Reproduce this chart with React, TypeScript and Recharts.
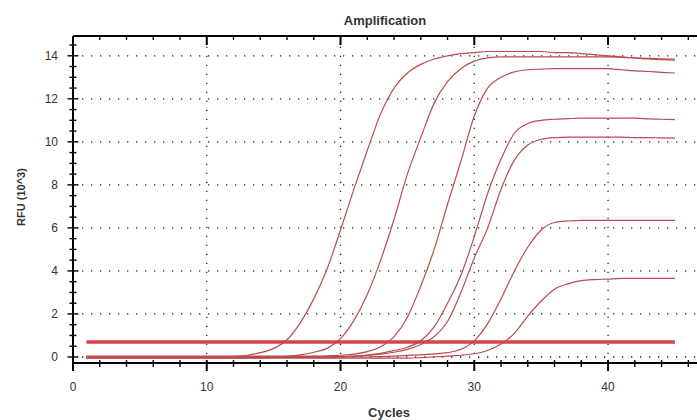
import React from "react";
import { LineChart, Line, XAxis, YAxis, ReferenceLine } from "recharts";

// cycle numbers of the run
const cycles = [
  1, 2, 3, 4, 5, 6, 7, 8, 9, 10, 11, 12, 13, 14, 15, 16, 17, 18, 19, 20, 21, 22, 23,
  24, 25, 26, 27, 28, 29, 30, 31, 32, 33, 34, 35, 36, 37, 38, 39, 40, 41, 42, 43, 44, 45,
];

// RFU (x10^3) per well
const wellA = [
  0, 0, 0, 0, 0, 0, 0, 0, 0, 0, 0, 0.02, 0.08, 0.2, 0.4, 0.8, 1.6, 2.7, 4.1, 5.9, 7.8, 9.6, 11.3,
  12.5, 13.2, 13.6, 13.85, 14.0, 14.1, 14.15, 14.2, 14.2, 14.2, 14.2, 14.2, 14.15, 14.15, 14.1,
  14.05, 14.0, 13.95, 13.9, 13.85, 13.82, 13.8,
];
const wellB = [
  -0.04, -0.04, -0.04, -0.04, -0.04, -0.04, -0.04, -0.04, -0.04, -0.04, -0.04, -0.04, -0.04,
  -0.04, -0.02, 0.03, 0.1, 0.22, 0.4, 0.85, 1.7, 2.9, 4.5, 6.4, 8.5, 10.2, 11.8, 12.8, 13.4,
  13.75, 13.9, 13.95, 13.95, 13.95, 13.95, 13.95, 13.95, 13.95, 13.95, 13.95, 13.93, 13.9,
  13.88, 13.86, 13.85,
];
const wellC = [
  0.04, 0.04, 0.04, 0.04, 0.04, 0.04, 0.04, 0.04, 0.04, 0.04, 0.04, 0.04, 0.04, 0.04, 0.04,
  0.04, 0.04, 0.04, 0.05, 0.08, 0.13, 0.25, 0.48, 0.95, 1.85, 3.3, 5.0, 7.1, 9.1, 11.2, 12.5,
  13.0, 13.25, 13.35, 13.38, 13.4, 13.4, 13.4, 13.4, 13.4, 13.35, 13.3, 13.27, 13.23, 13.2,
];
const wellD = [
  -0.02, -0.02, -0.02, -0.02, -0.02, -0.02, -0.02, -0.02, -0.02, -0.02, -0.02, -0.02, -0.02,
  -0.02, -0.02, -0.02, -0.02, -0.02, -0.02, 0.0, 0.04, 0.09, 0.17, 0.3, 0.45, 0.75, 1.4, 2.5,
  3.8, 5.6, 7.6, 9.2, 10.4, 10.85, 11.0, 11.05, 11.08, 11.1, 11.1, 11.1, 11.1, 11.1, 11.07,
  11.05, 11.03,
];
const wellE = [
  0.02, 0.02, 0.02, 0.02, 0.02, 0.02, 0.02, 0.02, 0.02, 0.02, 0.02, 0.02, 0.02, 0.02, 0.02,
  0.02, 0.02, 0.02, 0.02, 0.02, 0.04, 0.07, 0.13, 0.22, 0.35, 0.58, 0.95, 1.65, 3.0, 4.6, 6.0,
  7.8, 9.15, 9.85, 10.12, 10.2, 10.22, 10.22, 10.22, 10.22, 10.22, 10.2, 10.2, 10.18, 10.17,
];
const wellF = [
  0, 0, 0, 0, 0, 0, 0, 0, 0, 0, 0, 0, 0, 0, 0, 0, 0, 0, 0, 0, 0, 0, 0.02, 0.04, 0.07, 0.1,
  0.14, 0.2, 0.36, 0.75, 1.55, 2.7, 4.0, 5.1, 5.9, 6.25, 6.32, 6.35, 6.35, 6.35, 6.35, 6.35,
  6.35, 6.35, 6.35,
];
const wellG = [
  -0.05, -0.05, -0.05, -0.05, -0.05, -0.05, -0.05, -0.05, -0.05, -0.05, -0.05, -0.05, -0.05,
  -0.05, -0.05, -0.05, -0.05, -0.05, -0.05, -0.05, -0.05, -0.05, -0.05, -0.05, -0.05, -0.03,
  0.0, 0.04, 0.08, 0.15, 0.3, 0.6, 1.1, 1.9, 2.6, 3.15, 3.4, 3.55, 3.6, 3.62, 3.65, 3.65, 3.65,
  3.65, 3.65,
];
const threshold = 0.7;

const wells = [wellA, wellB, wellC, wellD, wellE, wellF, wellG];
const wellKeys = ["a", "b", "c", "d", "e", "f", "g"];

// axis ticks
const xTicks = [0, 2, 4, 6, 8, 10, 12, 14, 16, 18, 20, 22, 24, 26, 28, 30, 32, 34, 36, 38, 40, 42, 44, 46];
const yTicks = [
  0, 0.5, 1, 1.5, 2, 2.5, 3, 3.5, 4, 4.5, 5, 5.5, 6, 6.5, 7, 7.5, 8, 8.5, 9, 9.5, 10, 10.5, 11,
  11.5, 12, 12.5, 13, 13.5, 14, 14.5,
];
const yGrid = [0, 2, 4, 6, 8, 10, 12, 14];
const xGrid = [10, 20, 30, 40];

const data = cycles.map((cycle, i) => {
  const row: Record<string, number> = { cycle, thr: threshold };
  wells.forEach((w, j) => (row[wellKeys[j]] = w[i]));
  return row;
});

const FONT = "'Liberation Sans', Arial, sans-serif";
const CURVE = "#bd4a50";

const YTick = (props: any) => {
  const { x, y, payload } = props;
  const major = payload.value % 2 === 0;
  const len = major ? 5.5 : 3.5;
  return (
    <g>
      <line x1={x - len} x2={x + len} y1={y} y2={y} stroke="#000" strokeWidth={1.4} />
      {major && (
        <text x={x - 15} y={y + 4.5} textAnchor="end" fontSize={12} fill="#333" fontFamily={FONT}>
          {payload.value}
        </text>
      )}
    </g>
  );
};

const BottomTick = (props: any) => {
  const { x, y, payload } = props;
  const major = payload.value % 10 === 0;
  return (
    <g>
      <line x1={x} x2={x} y1={y - 3} y2={y + (major ? 8 : 4)} stroke="#000" strokeWidth={major ? 2 : 1.4} />
      {major && (
        <text x={x} y={y + 28} textAnchor="middle" fontSize={12} fill="#333" fontFamily={FONT}>
          {payload.value}
        </text>
      )}
    </g>
  );
};

const TopTick = (props: any) => {
  const { x, y, payload } = props;
  const major = payload.value % 10 === 0;
  return <line x1={x} x2={x} y1={y} y2={y + (major ? 9 : 4)} stroke="#000" strokeWidth={major ? 2 : 1.4} />;
};

export default function App() {
  return (
    <div
      style={{
        position: "absolute",
        left: 0,
        top: 0,
        width: 697,
        height: 420,
        overflow: "hidden",
        background: "#fff",
      }}
    >
      <LineChart width={697} height={420} data={data} margin={{ top: 0, right: 0, bottom: 0, left: 0 }}>
        <XAxis
          xAxisId="top"
          orientation="top"
          dataKey="cycle"
          type="number"
          domain={[0, 46.65]}
          ticks={xTicks}
          interval={0}
          height={36}
          tickSize={0}
          tickMargin={0}
          tick={<TopTick />}
          axisLine={{ stroke: "#000", strokeWidth: 2 }}
        />
        <XAxis
          dataKey="cycle"
          type="number"
          domain={[0, 46.65]}
          ticks={xTicks}
          interval={0}
          height={57}
          tickSize={0}
          tickMargin={0}
          tick={<BottomTick />}
          axisLine={{ stroke: "#000", strokeWidth: 2 }}
        />
        <YAxis
          type="number"
          domain={[-0.28, 14.92]}
          ticks={yTicks}
          interval={0}
          width={73}
          tickSize={0}
          tickMargin={0}
          tick={<YTick />}
          axisLine={{ stroke: "#000", strokeWidth: 2 }}
        />
        {yGrid.map((v) => (
          <ReferenceLine key={"gy" + v} y={v} stroke="#222" strokeWidth={1.3} strokeDasharray="1.3 7.7" />
        ))}
        {xGrid.map((v) => (
          <ReferenceLine key={"gx" + v} x={v} stroke="#222" strokeWidth={1.3} strokeDasharray="1.3 7.7" />
        ))}
        <Line dataKey="thr" type="linear" stroke="#d8434b" strokeWidth={3.5} dot={false} isAnimationActive={false} />
        {wellKeys.map((k) => (
          <Line
            key={k}
            dataKey={k}
            type="monotone"
            stroke={CURVE}
            strokeWidth={1.2}
            dot={false}
            isAnimationActive={false}
          />
        ))}
      </LineChart>
      <svg
        width={697}
        height={420}
        style={{ position: "absolute", left: 0, top: 0, pointerEvents: "none" }}
      >
        <text x={385} y={25} textAnchor="middle" fontSize={13} fontWeight="bold" fill="#333" fontFamily={FONT}>
          Amplification
        </text>
        <text
          x={0}
          y={0}
          transform="translate(25 197) rotate(-90)"
          textAnchor="middle"
          fontSize={11}
          fontWeight="bold"
          fill="#333"
          fontFamily={FONT}
        >
          RFU (10^3)
        </text>
        <text x={389} y={417} textAnchor="middle" fontSize={13} fontWeight="bold" fill="#333" fontFamily={FONT}>
          Cycles
        </text>
      </svg>
    </div>
  );
}
